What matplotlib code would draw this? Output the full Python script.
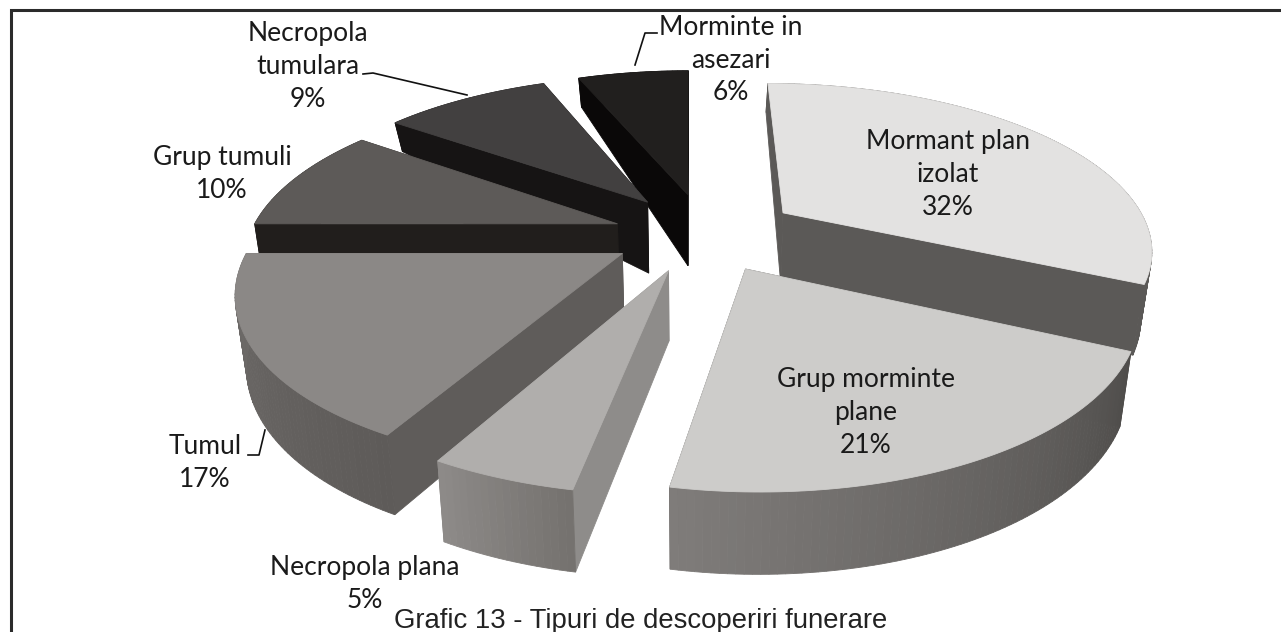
import numpy as np
import matplotlib
matplotlib.use("Agg")
import matplotlib.pyplot as plt
from matplotlib.colors import to_rgb
from matplotlib.patches import Polygon

categories = ["Mormant plan\nizolat", "Grup morminte\nplane", "Necropola plana", "Tumul", "Grup tumuli", "Necropola\ntumulara", "Morminte in\nasezari"]
percent = [32, 21, 5, 17, 10, 9, 6]
shift_u = [0.26, 0.145, -0.056, -0.18, -0.20, -0.12, -0.006]
shift_v = [0.17, -0.17, -0.18, -0.08, 0.10, 0.24, 0.29]
top_colors = ["#e3e2e1", "#cdccca", "#b0aeac", "#8b8886", "#5d5a58", "#424040", "#211f1e"]
face_colors = ["#5b5957", "#555351", "#8e8c8a", "#5f5c5a", "#211e1c", "#161414", "#0a0808"]
wall_start = ["#5b5957", "#4f4d4b", "#75726f", "#5e5b59", "#211e1c", "#161414", "#0a0808"]
wall_end = ["#5b5957", "#7f7c7a", "#8d8a88", "#6f6c6a", "#211e1c", "#161414", "#0a0808"]
draw_order = [6, 5, 4, 3, 0, 1, 2]
label_xy = [(948, 174.5), (866, 412.5), (365, 584), (205, 463), (222, 174), (308, 66.5), (731, 60)]
title = "Grafic 13 - Tipuri de descoperiri funerare"

CX, CY, RX, RY, K = 690, 240, 370, 165, 0.2


def project(u, v, depth=False):
    u = np.asarray(u, float)
    v = np.asarray(v, float)
    w = 1 + K * v
    x = CX + RX * u / w
    y = CY - RY * v / w
    if depth:
        x = CX + (x - CX) * 0.975
        y = y + np.interp(v, [-1.3, -0.2, 0.3, 0.85, 1.4], [84, 70, 71, 27, 30])
    return x, y


def mix(a, b, t):
    a, b = np.array(to_rgb(a)), np.array(to_rgb(b))
    return tuple(a + (b - a) * t)


fig = plt.figure(figsize=(12.81, 6.32), dpi=100)
ax = fig.add_axes([0, 0, 1, 1])
ax.set_xlim(0, 1281)
ax.set_ylim(632, 0)
ax.axis("off")

# frame: left and top rules only, running off the page
ax.plot([10.5, 10.5, 1281], [632, 9.5, 9.5], color="#2b2b2b", lw=2.2, solid_joinstyle="miter")

edges = np.cumsum([0] + percent) * 3.6
for i in draw_order:
    a0, a1 = np.radians(edges[i]), np.radians(edges[i + 1])
    ou, ov = shift_u[i], shift_v[i]
    th = np.linspace(a0, a1, max(int(np.degrees(a1 - a0)), 2) + 1)
    ru, rv = ou + np.sin(th), ov + np.cos(th)

    tx, ty = project(ru, rv)
    bx, by = project(ru, rv, depth=True)
    ax_, ay_ = project(ou, ov)
    bax, bay = project(ou, ov, depth=True)

    # radial faces
    for k in (0, -1):
        ax.add_patch(Polygon([(ax_, ay_), (tx[k], ty[k]), (bx[k], by[k]), (bax, bay)],
                             closed=True, fc=face_colors[i], ec=face_colors[i], lw=0.6))
    # outer wall with gradient
    for j in range(len(th) - 1):
        c = mix(wall_start[i], wall_end[i], j / max(len(th) - 2, 1))
        ax.add_patch(Polygon([(tx[j], ty[j]), (tx[j + 1], ty[j + 1]), (bx[j + 1], by[j + 1]), (bx[j], by[j])],
                             closed=True, fc=c, ec=c, lw=0.6))
    # top face
    ax.add_patch(Polygon(np.column_stack([np.r_[ax_, tx], np.r_[ay_, ty]]), closed=True,
                         fc=top_colors[i], ec=top_colors[i], lw=0.6))

# leader lines
ax.plot([363, 373, 467], [74, 73, 95], color="#111111", lw=1.2)
ax.plot([248, 259, 265], [455, 455, 430], color="#111111", lw=1.2)
ax.plot([657, 645, 635], [33, 33, 65], color="#111111", lw=1.2)

for name, p, (x, y) in zip(categories, percent, label_xy):
    ax.text(x, y, f"{name}\n{p}%", ha="center", va="center", family="Lato",
            fontsize=19, color="#1a1a1a", linespacing=1.38)

ax.text(641, 621, title, ha="center", va="center", family="Liberation Sans", fontsize=19.8, color="#222222")

fig.savefig("out.png", dpi=100)
